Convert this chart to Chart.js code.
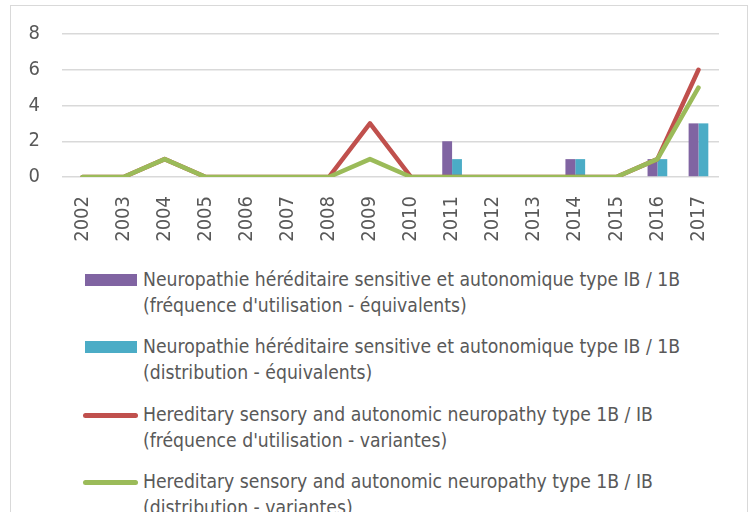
<!DOCTYPE html>
<html>
<head>
<meta charset="utf-8">
<script src="https://cdn.jsdelivr.net/npm/chart.js@4/dist/chart.umd.min.js"></script>
<style>
  html, body { margin: 0; padding: 0; background: #fff; }
  body { width: 753px; height: 512px; overflow: hidden; position: relative; }
  #frame { position: absolute; left: 10px; top: 5px; width: 738px; height: 540px; border: 1px solid #d9d9d9; box-sizing: border-box; }
  #wrap { position: absolute; left: 0; top: 0; width: 753px; height: 255px; }
  #legend { position: absolute; left: 0; top: 0; width: 753px; }
  .item { position: absolute; left: 143px; font: 19.2px "DejaVu Sans Condensed", "Liberation Sans", sans-serif; color: #595959; line-height: 26px; white-space: nowrap; }
  .sw { position: absolute; }
</style>
</head>
<body>
<div id="frame"></div>
<div id="wrap"><canvas id="c"></canvas></div>
<div id="legend"></div>
<script>
const YEARS = ["2002", "2003", "2004", "2005", "2006", "2007", "2008", "2009", "2010", "2011", "2012", "2013", "2014", "2015", "2016", "2017"];
const FREQ_EQUIV = [0, 0, 0, 0, 0, 0, 0, 0, 0, 2, 0, 0, 1, 0, 1, 3];
const DIST_EQUIV = [0, 0, 0, 0, 0, 0, 0, 0, 0, 1, 0, 0, 1, 0, 1, 3];
const FREQ_VAR = [0, 0, 1, 0, 0, 0, 0, 3, 0, 0, 0, 0, 0, 0, 1, 6];
const DIST_VAR = [0, 0, 1, 0, 0, 0, 0, 1, 0, 0, 0, 0, 0, 0, 1, 5];
const NAMES = [
  ["Neuropathie héréditaire sensitive et autonomique type IB / 1B", "(fréquence d'utilisation - équivalents)"],
  ["Neuropathie héréditaire sensitive et autonomique type IB / 1B", "(distribution - équivalents)"],
  ["Hereditary sensory and autonomic neuropathy type 1B / IB", "(fréquence d'utilisation - variantes)"],
  ["Hereditary sensory and autonomic neuropathy type 1B / IB", "(distribution - variantes)"],
];
const Y_TICKS = [0, 2, 4, 6, 8];

const PURPLE = "#8064a2", TEAL = "#4bacc6", RED = "#c0504d", GREEN = "#9bbb59";
const GREY = "#595959", GRID = "#d9d9d9";
const tickFont = { family: "'DejaVu Sans Condensed', 'Liberation Sans', sans-serif", size: 20 };

const bar = (i, data, color) => ({ type: "bar", label: NAMES[i].join(" "), data, backgroundColor: color, order: 3, categoryPercentage: 0.48, barPercentage: 1 });
const line = (i, data, color, order) => ({ type: "line", label: NAMES[i].join(" "), data, borderColor: color, backgroundColor: color, borderWidth: 4.5, pointRadius: 0, tension: 0, order, borderCapStyle: "round", borderJoinStyle: "round" });

const chart = new Chart(document.getElementById("c"), {
  data: {
    labels: YEARS,
    datasets: [bar(0, FREQ_EQUIV, PURPLE), bar(1, DIST_EQUIV, TEAL), line(2, FREQ_VAR, RED, 2), line(3, DIST_VAR, GREEN, 1)],
  },
  options: {
    responsive: true, maintainAspectRatio: false, animation: false,
    layout: { padding: { left: 0, right: 34, top: 34, bottom: 0 } },
    plugins: { legend: { display: false }, tooltip: { enabled: false } },
    scales: {
      x: {
        grid: { display: false }, border: { display: false },
        ticks: { color: GREY, font: tickFont, minRotation: 90, maxRotation: 90, padding: 11, autoSkip: false },
        afterFit: (s) => { s.height = 78; },
      },
      y: {
        min: 0, max: 8,
        afterBuildTicks: (s) => { s.ticks = Y_TICKS.map((v) => ({ value: v })); },
        grid: { color: GRID, lineWidth: 1.5, drawTicks: false }, border: { display: false },
        ticks: { color: GREY, font: tickFont, padding: 22 },
        afterFit: (s) => { s.width = 62; },
      },
    },
  },
});

// legend built from the chart's datasets (wrapped text like the original)
const TOPS = [267, 334, 402, 469];
document.getElementById("legend").innerHTML = chart.data.datasets.map((d, i) => {
  const sw = d.type === "bar"
    ? `<div class="sw" style="left:-58px;top:7px;width:52px;height:12px;background:${d.backgroundColor}"></div>`
    : `<div class="sw" style="left:-60px;top:10.5px;width:55px;height:5px;border-radius:3px;background:${d.borderColor}"></div>`;
  return `<div class="item" style="top:${TOPS[i]}px">${sw}${NAMES[i].join("<br>")}</div>`;
}).join("");
</script>
</body>
</html>
